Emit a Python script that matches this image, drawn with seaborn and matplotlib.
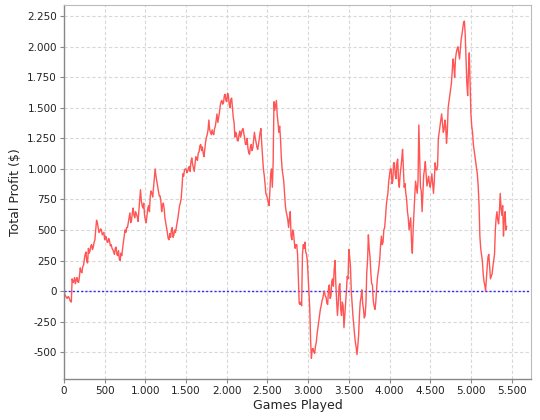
import numpy as np
import pandas as pd
import matplotlib
matplotlib.use("Agg")
import matplotlib.pyplot as plt
import matplotlib.ticker as mticker
import seaborn as sns

# --- values (one value every 10 games) ---
step = 10
profit = [
    0, -30, -40, -55, -60, -45, -50, -70, -85, -90,
    100, 70, 80, 110, 60, 90, 110, 75, 70, 120,
    190, 160, 150, 200, 210, 260, 300, 320, 240, 230,
    350, 310, 330, 370, 380, 340, 360, 400, 420, 500,
    580, 560, 520, 480, 490, 510, 500, 460, 470, 480,
    420, 450, 440, 400, 400, 430, 410, 370, 380, 350,
    340, 320, 300, 350, 360, 300, 290, 330, 260, 250,
    310, 290, 350, 400, 450, 500, 480, 520, 520, 560,
    600, 640, 560, 580, 640, 680, 620, 600, 650, 630,
    610, 570, 660, 760, 830, 740, 700, 680, 720, 620,
    580, 560, 620, 680, 700, 650, 780, 820, 800, 770,
    850, 920, 1000, 940, 900, 860, 820, 780, 780, 740,
    650, 700, 720, 680, 600, 560, 520, 480, 430, 420,
    470, 440, 500, 520, 440, 460, 500, 480, 520, 560,
    600, 650, 700, 720, 760, 850, 960, 940, 990, 1000,
    1000, 970, 980, 1010, 1020, 980, 1060, 1090, 1040, 1010,
    980, 1040, 1100, 1080, 1070, 1130, 1140, 1190, 1200, 1150,
    1180, 1130, 1100, 1160, 1220, 1260, 1280, 1320, 1400, 1320,
    1300, 1280, 1320, 1290, 1280, 1330, 1350, 1400, 1450, 1380,
    1420, 1460, 1520, 1550, 1560, 1530, 1540, 1600, 1610, 1560,
    1550, 1620, 1600, 1530, 1500, 1570, 1580, 1500, 1420, 1380,
    1260, 1300, 1280, 1230, 1230, 1280, 1310, 1260, 1290, 1320,
    1330, 1290, 1250, 1200, 1200, 1250, 1170, 1130, 1120, 1180,
    1200, 1150, 1170, 1240, 1300, 1250, 1220, 1180, 1160, 1200,
    1250, 1300, 1330, 1200, 1100, 1000, 950, 880, 800, 780,
    760, 720, 700, 820, 960, 1000, 850, 1050, 1550, 1480,
    1520, 1560, 1440, 1380, 1300, 1350, 1250, 1100, 1000, 950,
    900, 800, 700, 650, 620, 580, 520, 600, 650, 450,
    420, 500, 480, 400, 350, 380, 380, 300, 100, -100,
    -110, -90, -120, 300, 380, 350, 400, 320, 300, 250,
    120, 0, -150, -400, -550, -480, -470, -500, -510, -450,
    -420, -350, -300, -250, -200, -150, -120, -80, -60, -20,
    0, -40, -50, -100, -110, 20, 50, -60, -40, 80,
    100, 40, 180, 250, 60, -80, -200, -100, 40, 60,
    -150, -200, -90, -120, -300, -200, -100, 0, 120, 100,
    340, 280, 200, 0, -100, -200, -280, -350, -420, -460,
    -520, -450, -360, -200, -90, -50, 10, -100, -150, -220,
    -200, -100, 150, 250, 460, 350, 280, 150, 60, 50,
    -80, -120, -150, -100, 0, 100, 150, 200, 260, 380,
    450, 380, 400, 500, 520, 600, 700, 760, 800, 900,
    950, 1000, 1000, 880, 900, 1050, 1050, 950, 920, 1050,
    1080, 900, 850, 950, 1010, 1080, 1160, 1000, 850, 880,
    800, 750, 650, 600, 500, 550, 600, 400, 310, 500,
    650, 780, 900, 850, 800, 900, 1360, 1100, 850, 820,
    650, 800, 950, 1000, 1060, 950, 860, 900, 940, 880,
    850, 900, 960, 880, 800, 900, 1050, 1000, 990, 1020,
    1250, 1300, 1350, 1400, 1450, 1380, 1300, 1320, 1400, 1350,
    1210, 1300, 1500, 1550, 1600, 1650, 1700, 1800, 1900, 1850,
    1750, 1900, 1950, 1980, 2000, 1950, 1900, 1980, 2060, 2100,
    2150, 2200, 2210, 2100, 1900, 1700, 1600, 1800, 1950, 1700,
    1450, 1350, 1300, 1200, 1150, 1100, 1050, 1000, 950, 850,
    700, 450, 350, 300, 250, 150, 80, 50, 0, 100,
    200, 280, 300, 200, 100, 120, 140, 200, 250, 300,
    500, 600, 650, 580, 550, 650, 800, 680, 620, 700,
    450, 600, 650, 500, 530,
]
games = [i * step for i in range(len(profit))]
x_ticks = [0, 500, 1000, 1500, 2000, 2500, 3000, 3500, 4000, 4500, 5000, 5500]
y_ticks = [-500, -250, 0, 250, 500, 750, 1000, 1250, 1500, 1750, 2000, 2250]

df = pd.DataFrame({"Games Played": games, "Total Profit ($)": profit})

sns.set_style("white")
plt.rcParams["font.family"] = ["DejaVu Sans"]

fig = plt.figure(figsize=(5.4, 4.2), dpi=100)
ax = fig.add_axes([0.1185, 0.0976, 0.8645, 0.8905])

sns.lineplot(data=df, x="Games Played", y="Total Profit ($)", ax=ax,
             color="#ff5555", linewidth=1.0)
# zero marker line
ax.axhline(0, color="#2a2aff", linewidth=1.0, linestyle=(0, (1.5, 1.5)), zorder=1)

ax.set_xlim(0, 5736)
ax.set_ylim(-720, 2342)
ax.set_xticks(x_ticks)
ax.set_yticks(y_ticks)
fmt = mticker.FuncFormatter(lambda v, p: f"{int(v):,}".replace(",", "."))
ax.xaxis.set_major_formatter(fmt)
ax.yaxis.set_major_formatter(fmt)

ax.grid(True, color="#d8d8d8", linestyle=(0, (3, 2)), linewidth=0.8)
ax.set_axisbelow(True)
for side in ["top", "right"]:
    ax.spines[side].set_color("#bbbbbb")
    ax.spines[side].set_linewidth(0.8)
for side in ["left", "bottom"]:
    ax.spines[side].set_color("#888888")
    ax.spines[side].set_linewidth(1.0)

ax.tick_params(axis="both", direction="out", length=3, width=0.8, color="#888888",
               labelsize=7.5, labelcolor="#222222", left=True, bottom=True, pad=2)
ax.set_xlabel("Games Played", fontsize=9, color="#222222", labelpad=2)
ax.set_ylabel("Total Profit ($)", fontsize=9, color="#222222", labelpad=4)

fig.savefig("out.png", dpi=100)
